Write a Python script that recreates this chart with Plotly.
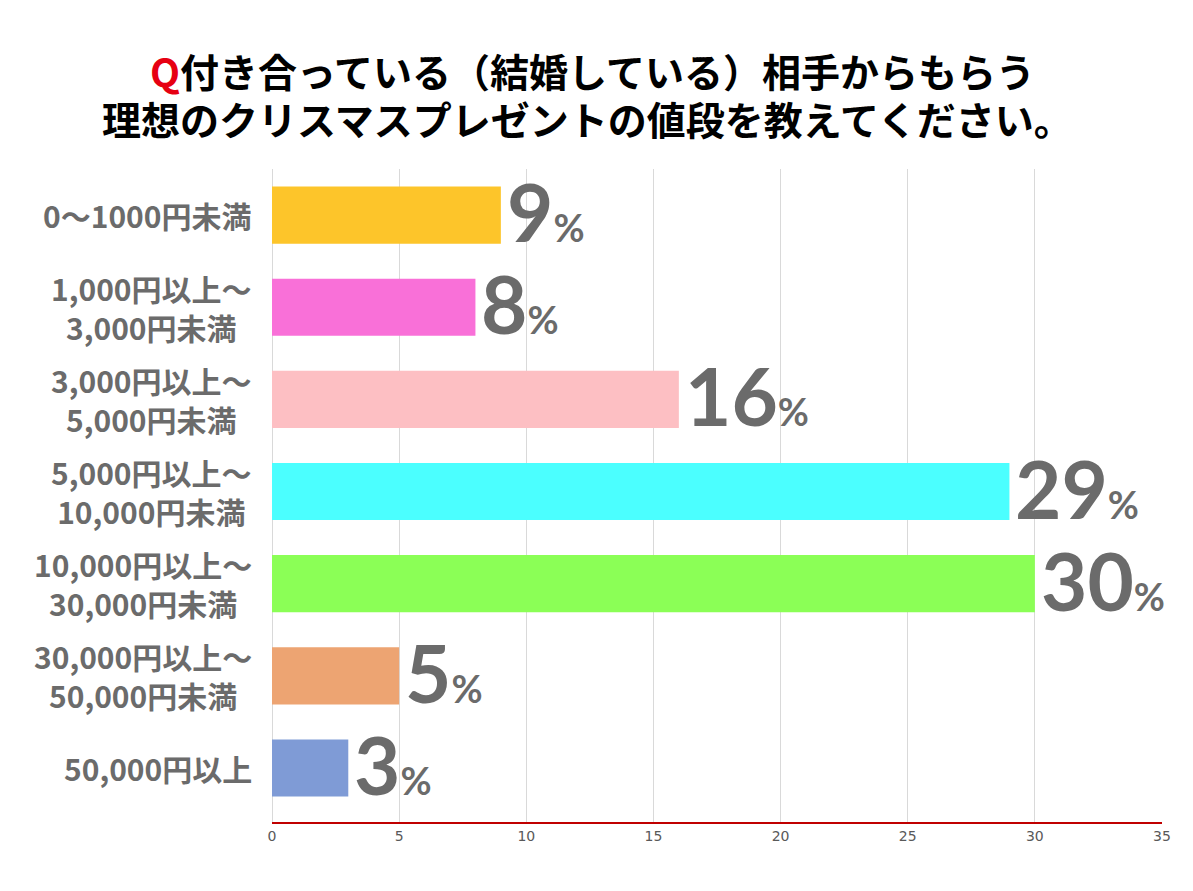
import plotly.graph_objects as go

categories = [
    "0～1000円未満",
    "1,000円以上～<br>3,000円未満",
    "3,000円以上～<br>5,000円未満",
    "5,000円以上～<br>10,000円未満",
    "10,000円以上～<br>30,000円未満",
    "30,000円以上～<br>50,000円未満",
    "50,000円以上",
]
values = [9, 8, 16, 29, 30, 5, 3]
bar_colors = ["#FDC52A", "#F970D8", "#FDBFC3", "#4BFFFF", "#8BFF56", "#EDA472", "#7F9BD6"]
x_ticks = [0, 5, 10, 15, 20, 25, 30, 35]

title_line1 = "<span style='color:#E60012'>Q</span>付き合っている（結婚している）相手からもらう"
title_line2 = "理想のクリスマスプレゼントの値段を教えてください。"

fig = go.Figure()
fig.add_trace(go.Bar(
    x=values, y=categories, orientation="h",
    marker=dict(color=bar_colors, line=dict(width=0)),
    hoverinfo="skip",
))

annotations = []
for cat in categories:
    annotations.append(dict(
        x=0, xref="paper", y=cat, yref="y",
        text=f"<b>{cat}</b>", showarrow=False,
        xanchor="right", yanchor="middle", align="center", xshift=-18,
        font=dict(family="Noto Sans CJK JP", size=30, color="#6B6B6B"),
    ))
for cat, v in zip(categories, values):
    annotations.append(dict(
        x=v, xref="x", y=cat, yref="y",
        text=f"<b>{v}<span style='font-size:38px'>%</span></b>",
        showarrow=False, xanchor="left", yanchor="middle", xshift=4, yshift=4,
        font=dict(family="Lato", size=80, color="#6B6B6B"),
    ))
for txt, yy, xx in [(title_line1, 1.1516, 0.3596), (title_line2, 1.0781, 0.354)]:
    annotations.append(dict(
        x=xx, xref="paper", y=yy, yref="paper",
        text=f"<b>{txt}</b>", showarrow=False,
        xanchor="center", yanchor="middle",
        font=dict(family="Noto Sans CJK JP", size=39, color="#000000"),
    ))

fig.update_layout(
    width=1185, height=883,
    margin=dict(l=264, r=31, t=161, b=69),
    paper_bgcolor="white", plot_bgcolor="white",
    showlegend=False,
    bargap=0.38,
    xaxis=dict(
        range=[0, 35], tickvals=x_ticks, ticktext=[str(t) for t in x_ticks],
        showgrid=True, gridcolor="#D9D9D9", gridwidth=1,
        zeroline=True, zerolinecolor="#D9D9D9", zerolinewidth=1,
        showline=True, linecolor="#C00000", linewidth=1.5,
        ticks="", tickfont=dict(family="Liberation Sans Narrow, DejaVu Sans", size=14, color="#595959"),
        fixedrange=True,
    ),
    yaxis=dict(
        categoryorder="array", categoryarray=categories, autorange="reversed",
        showticklabels=False, showgrid=False, zeroline=False, showline=False,
        fixedrange=True,
    ),
    annotations=annotations,
)

fig.write_html("out.html")
